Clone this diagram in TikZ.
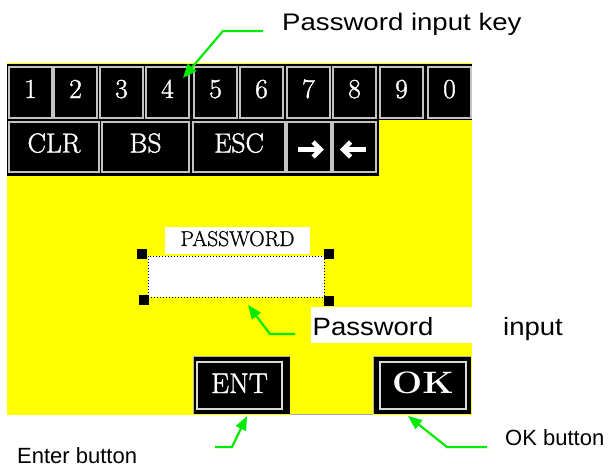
\documentclass[tikz,border=0pt]{standalone}
\usepackage{fontspec}
\usepackage{graphicx}
\usetikzlibrary{arrows.meta}
\newfontfamily\lblfont{Liberation Sans}
\newfontfamily\lblwide[FakeStretch=1.15]{Liberation Sans}
\newfontfamily\lblmid[FakeStretch=1.1]{Liberation Sans}
\newfontfamily\keyfont[FakeBold=1.4]{Latin Modern Roman}
\newfontfamily\titlefont[FakeBold=0.8]{Latin Modern Roman}
\definecolor{panel}{RGB}{255,255,0}
\definecolor{pointer}{RGB}{0,235,0}
\definecolor{keyedge}{RGB}{195,195,195}

\begin{document}
\begin{tikzpicture}[x=1pt,y=-1pt,
  keybox/.style={draw=keyedge, line width=1.3pt, fill=black, text=white,
    font=\keyfont\fontsize{27.5}{27.5}\selectfont, inner sep=0pt,
    text height=20pt, text depth=9pt},
  keyrow1/.style={keybox, minimum width=43pt, minimum height=51pt},
  keyrow2/.style={keybox, minimum height=50pt},
  btnface/.style={draw=white!85!black, line width=1.2pt, text=white, inner sep=0pt,
    minimum width=85pt, minimum height=47pt},
  callout/.style={draw=pointer, line width=2.2pt,
    -{Triangle[length=14pt,width=11pt]}},
  note/.style={anchor=base west, inner sep=0pt, text=black},
  arrowglyph/.style={draw=white, line width=4.6pt},
]
\useasboundingbox (0,0) rectangle (609,471);

% yellow panel and black keyboard strip
\fill[panel] (7,63) rectangle (472,415);
\fill[black] (7,64) rectangle (472,120);
\fill[black] (7,120) rectangle (379,176);

% numeric keys
\foreach \lab/\cx in {1/30.5, 2/75.5, 3/121.5, 4/167.5, 5/215.5,
                      6/261.5, 7/308.5, 8/354.5, 9/401.5, 0/449.5}
  \node[keyrow1] (key\lab) at (\cx,92.5) {\lab};

% editing keys
\node[keyrow2, minimum width=90pt] (clr) at (54,147) {CLR};
\node[keyrow2, minimum width=87pt] (bs) at (145.5,147) {BS};
\node[keyrow2, minimum width=92pt] (esc) at (239,147) {ESC};
\node[keyrow2, minimum width=44pt] (right) at (309,147) {};
\node[keyrow2, minimum width=43pt] (left) at (354.5,147) {};
\draw[arrowglyph] ([xshift=-11pt,yshift=-2.5pt]right.center) -- ([xshift=11pt,yshift=-2.5pt]right.center);
\draw[arrowglyph, line join=miter] ([xshift=4pt,yshift=-10pt]right.center)
  -- ([xshift=11.5pt,yshift=-2.5pt]right.center) -- ([xshift=4pt,yshift=5pt]right.center);
\draw[arrowglyph] ([xshift=11pt,yshift=-2.5pt]left.center) -- ([xshift=-11pt,yshift=-2.5pt]left.center);
\draw[arrowglyph, line join=miter] ([xshift=-4pt,yshift=-10pt]left.center)
  -- ([xshift=-11.5pt,yshift=-2.5pt]left.center) -- ([xshift=-4pt,yshift=5pt]left.center);

% password field
\node[fill=white, inner sep=0pt, minimum width=145pt, minimum height=27pt,
  text height=17pt, text depth=5pt, font=\titlefont\fontsize{21.5}{21.5}\selectfont]
  (pwtitle) at (237.5,240) {PASSWORD};
\node[fill=white, draw=black, dotted, line width=1pt, minimum width=176pt,
  minimum height=41pt, inner sep=0pt] (pwfield) at (236,276.5) {};
\fill[black] (136.5,248.5) rectangle +(10,10);
\fill[black] (324,248.5) rectangle +(10,10);
\fill[black] (138.5,294.5) rectangle +(10,10);
\fill[black] (323.5,295.5) rectangle +(10,10);

% ENT and OK buttons
\fill[black] (193,356) rectangle (290,414);
\draw[gray!60, line width=0.6pt] (193,414) -- (193,356) -- (290,356);
\node[btnface, font=\keyfont\fontsize{28.5}{28.5}\selectfont, text height=22pt, text depth=7pt]
  (ent) at (239.5,385.5) {ENT};
\fill[black] (373,356) rectangle (471,414);
\draw[gray!60, line width=0.6pt] (373,414) -- (373,356) -- (471,356);
\node[btnface, minimum width=86pt, font=\fontsize{31}{31}\selectfont\bfseries,
  text height=22pt, text depth=7pt]
  (ok) at (423,385.5) {\scalebox{1.15}[1]{OK}};
\draw[gray!70, line width=0.8pt] (290,414.6) -- (373,414.6);

% captions
\node[note, font=\lblwide\fontsize{24}{24}\selectfont] (capkey) at (282,30) {Password input key};
\node[fill=white, anchor=west, inner xsep=1.5pt, inner ysep=0pt, minimum height=36pt,
  text width=158pt, align=left, text height=20pt, text depth=0pt,
  font=\lblmid\fontsize{25}{25}\selectfont] (cappw) at (311,325) {Password};
\node[note, font=\lblmid\fontsize{25}{25}\selectfont] (capinput) at (503,335) {input};
\node[note, font=\lblfont\fontsize{22}{22}\selectfont] (capent) at (17,463) {Enter button};
\node[note, font=\lblfont\fontsize{22}{22}\selectfont] (capok) at (505,445) {OK button};

% pointer lines
\coordinate (keyA) at (263,31);  \coordinate (keyB) at (223,31);  \coordinate (keyT) at (183,78);
\coordinate (pwA) at (295,334);  \coordinate (pwB) at (270,334);  \coordinate (pwT) at (248,305);
\coordinate (entA) at (215,447); \coordinate (entB) at (232,447); \coordinate (entT) at (247,416);
\coordinate (okA) at (487,447);  \coordinate (okB) at (447,447);  \coordinate (okT) at (408,416);
\draw[callout] (keyA) -- (keyB) -- (keyT);
\draw[callout] (pwA) -- (pwB) -- (pwT);
\draw[callout] (entA) -- (entB) -- (entT);
\draw[callout] (okA) -- (okB) -- (okT);
\end{tikzpicture}
\end{document}
